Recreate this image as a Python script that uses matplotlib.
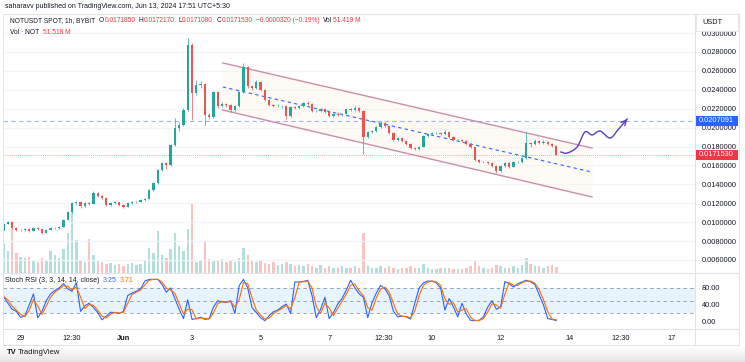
import numpy as np
import pandas as pd
import matplotlib
matplotlib.use("Agg")
import matplotlib.pyplot as plt
import matplotlib.dates as mdates
from matplotlib.lines import Line2D
from matplotlib.patches import Rectangle

plt.rcParams['font.family'] = ['Liberation Sans', 'DejaVu Sans']

# ---------------- data ----------------
candle_start = "2024-05-28 12:00"   # 3h candles
open_first = 0.00910
closes = [
    0.00980, 0.01001, 0.00938, 0.00917, 0.00917, 0.00927, 0.00906, 0.00938, 0.00927, 0.00885,
    0.00917, 0.00938, 0.00938, 0.00949, 0.01023, 0.01107, 0.01202, 0.01213, 0.01171, 0.01202,
    0.01192, 0.01308, 0.01276, 0.01255, 0.01181, 0.01202, 0.01213, 0.01181, 0.01160, 0.01202,
    0.01213, 0.01213, 0.01234, 0.01245, 0.01340, 0.01414, 0.01552, 0.01626, 0.01604, 0.01816,
    0.01996, 0.02028, 0.02186, 0.02874, 0.02366, 0.02451, 0.02461, 0.02133, 0.02112, 0.02377,
    0.02229, 0.02250, 0.02239, 0.02186, 0.02229, 0.02377, 0.02641, 0.02440, 0.02419, 0.02483,
    0.02398, 0.02292, 0.02239, 0.02229, 0.02229, 0.02229, 0.02123, 0.02218, 0.02208, 0.02229,
    0.02260, 0.02250, 0.02176, 0.02176, 0.02197, 0.02165, 0.02123, 0.02144, 0.02133, 0.02144,
    0.02197, 0.02186, 0.02208, 0.02176, 0.01901, 0.01954, 0.01964, 0.02006, 0.02049, 0.02017,
    0.01943, 0.01869, 0.01890, 0.01858, 0.01827, 0.01784, 0.01774, 0.01795, 0.01911, 0.01932,
    0.01943, 0.01943, 0.01932, 0.01954, 0.01901, 0.01869, 0.01869, 0.01858, 0.01827, 0.01795,
    0.01657, 0.01636, 0.01636, 0.01626, 0.01594, 0.01541, 0.01594, 0.01626, 0.01583, 0.01636,
    0.01636, 0.01679, 0.01837, 0.01827, 0.01858, 0.01837, 0.01848, 0.01827, 0.01806, 0.01715,
]
highs = [
    0.01000, 0.01012, 0.01008, 0.00945, 0.00930, 0.00936, 0.00934, 0.00948, 0.00952, 0.00932,
    0.00925, 0.00945, 0.00950, 0.00958, 0.01035, 0.01120, 0.01215, 0.01228, 0.01220, 0.01212,
    0.01210, 0.01325, 0.01315, 0.01285, 0.01262, 0.01210, 0.01222, 0.01218, 0.01188, 0.01208,
    0.01220, 0.01225, 0.01242, 0.01258, 0.01352, 0.01425, 0.01565, 0.01640, 0.01635, 0.01830,
    0.02100, 0.02060, 0.02210, 0.02950, 0.02900, 0.02500, 0.02490, 0.02470, 0.02150, 0.02390,
    0.02385, 0.02270, 0.02265, 0.02248, 0.02240, 0.02390, 0.02684, 0.02650, 0.02455, 0.02500,
    0.02490, 0.02405, 0.02300, 0.02255, 0.02245, 0.02240, 0.02235, 0.02228, 0.02232, 0.02240,
    0.02275, 0.02280, 0.02256, 0.02190, 0.02210, 0.02205, 0.02172, 0.02155, 0.02160, 0.02152,
    0.02210, 0.02205, 0.02230, 0.02220, 0.02190, 0.01965, 0.01975, 0.02015, 0.02065, 0.02058,
    0.02025, 0.01950, 0.01900, 0.01898, 0.01865, 0.01835, 0.01795, 0.01805, 0.01922, 0.01945,
    0.01955, 0.01958, 0.01950, 0.01972, 0.01962, 0.01910, 0.01882, 0.01880, 0.01866, 0.01835,
    0.01800, 0.01668, 0.01650, 0.01645, 0.01632, 0.01600, 0.01605, 0.01640, 0.01632, 0.01648,
    0.01652, 0.01690, 0.01950, 0.01850, 0.01880, 0.01868, 0.01870, 0.01858, 0.01835, 0.01812,
]
lows = [
    0.00905, 0.00975, 0.00930, 0.00905, 0.00908, 0.00910, 0.00898, 0.00902, 0.00920, 0.00878,
    0.00880, 0.00912, 0.00928, 0.00930, 0.00945, 0.01018, 0.01100, 0.01190, 0.01150, 0.01165,
    0.01185, 0.01188, 0.01268, 0.01245, 0.01170, 0.01175, 0.01196, 0.01172, 0.01150, 0.01155,
    0.01196, 0.01205, 0.01208, 0.01228, 0.01240, 0.01332, 0.01405, 0.01545, 0.01560, 0.01598,
    0.01810, 0.01960, 0.02020, 0.02180, 0.02080, 0.02340, 0.02420, 0.02030, 0.02090, 0.02100,
    0.02210, 0.02215, 0.02220, 0.02170, 0.02180, 0.02222, 0.02370, 0.02420, 0.02400, 0.02410,
    0.02385, 0.02280, 0.02225, 0.02215, 0.02218, 0.02210, 0.02095, 0.02115, 0.02195, 0.02200,
    0.02222, 0.02240, 0.02165, 0.02160, 0.02170, 0.02155, 0.02110, 0.02115, 0.02125, 0.02125,
    0.02140, 0.02175, 0.02180, 0.02168, 0.01720, 0.01890, 0.01940, 0.01955, 0.02000, 0.02005,
    0.01935, 0.01858, 0.01860, 0.01848, 0.01815, 0.01770, 0.01760, 0.01765, 0.01790, 0.01900,
    0.01925, 0.01930, 0.01922, 0.01925, 0.01890, 0.01858, 0.01855, 0.01848, 0.01815, 0.01785,
    0.01645, 0.01625, 0.01622, 0.01615, 0.01580, 0.01525, 0.01535, 0.01588, 0.01572, 0.01578,
    0.01625, 0.01630, 0.01672, 0.01790, 0.01820, 0.01825, 0.01830, 0.01815, 0.01795, 0.01705,
]
volumes_m = [
    260, 200, 400, 180, 150, 140, 150, 120, 100, 140,
    120, 200, 160, 140, 220, 360, 600, 300, 120, 100,
    310, 160, 120, 100, 80, 90, 70, 80, 60, 80,
    90, 70, 80, 120, 230, 180, 380, 160, 140, 220,
    360, 250, 200, 400, 640, 100, 120, 280, 130, 120,
    110, 130, 100, 120, 100, 140, 230, 160, 120, 100,
    120, 90, 80, 100, 70, 80, 100, 80, 60, 70,
    60, 80, 60, 50, 70, 50, 60, 50, 50, 60,
    50, 50, 60, 50, 360, 60, 50, 50, 60, 50,
    60, 50, 40, 50, 50, 60, 50, 50, 80, 50,
    40, 40, 50, 50, 50, 40, 40, 40, 50, 60,
    120, 60, 50, 40, 50, 70, 60, 50, 50, 60,
    50, 70, 140, 80, 60, 60, 50, 60, 70, 52,
]
stoch_k = [
    60, 45, 30, 25, 11, 14, 40, 66, 10, 25,
    50, 66, 74, 80, 90, 78, 72, 92, 25, 38,
    44, 34, 22, 5, 14, 23, 22, 20, 25, 62,
    68, 72, 78, 96, 100, 100, 100, 88, 70, 80,
    55, 30, 8, 52, 6, 8, 11, 6, 8, 35,
    50, 47, 46, 50, 20, 85, 100, 80, 34, 22,
    10, 3, 15, 24, 28, 36, 42, 20, 94, 94,
    95, 98, 62, 10, 30, 58, 8, 22, 42, 55,
    75, 98, 80, 66, 58, 10, 45, 68, 86, 78,
    62, 25, 12, 14, 12, 7, 45, 80, 92, 96,
    96, 92, 80, 28, 55, 35, 12, 44, 18, 4,
    3, 4, 12, 35, 50, 30, 35, 95, 90, 82,
    90, 94, 98, 94, 88, 64, 40, 8, 6, 3.25,
]

# drawings
channel_dates = ["2024-06-03 21:30", "2024-06-14 16:00"]
channel_upper = [0.02684, 0.01784]
channel_lower = [0.02186, 0.01266]
channel_mid = [0.02430, 0.01530]
level_blue = 0.0207091
level_last = 0.0171530
arrow_days = [15.76, 15.94, 16.23, 16.46, 16.67, 16.90, 17.19, 17.42, 17.69]
arrow_prices = [0.01742, 0.01731, 0.01795, 0.01954, 0.01922, 0.01964, 0.01890, 0.01975, 0.02091]

price_ticks = [0.006, 0.008, 0.010, 0.012, 0.014, 0.016, 0.018, 0.020, 0.022, 0.024, 0.026, 0.028, 0.030]
time_tick_days = [0, 1.5, 3, 5, 7, 9, 10.6, 12, 14, 16, 17.5, 19]
time_tick_labels = ["29", "12:30", "Jun", "3", "5", "7", "12:30", "10", "12", "14", "12:30", "17"]

# ---------------- figure ----------------
W, H = 745, 362
fig = plt.figure(figsize=(W / 100, H / 100), dpi=100, facecolor="white")


def box(x0, y0, x1, y1):
    return [x0 / W, 1 - y1 / H, (x1 - x0) / W, (y1 - y0) / H]


def fx(x):
    return x / W


def fy(y):
    return 1 - y / H


t0 = pd.Timestamp("2024-05-29")
times = pd.date_range(candle_start, periods=len(closes), freq="3h")
tnum = mdates.date2num(times.to_pydatetime())
opens = [open_first] + closes[:-1]
xl = mdates.date2num(t0 - pd.Timedelta(days=0.513))
xr = mdates.date2num(t0 + pd.Timedelta(days=19.67))

GREEN = "#26a69a"
RED = "#ef5350"

ax = fig.add_axes(box(3, 14, 695, 273))
ax_v = ax.twinx()
ax.set_zorder(ax_v.get_zorder() + 1)
ax.patch.set_visible(False)
ax_v.patch.set_visible(False)

# volume
vcols = [GREEN if c >= o else RED for o, c in zip(opens, closes)]
ax_v.bar(tnum, volumes_m, width=0.07, color=vcols, alpha=0.35, linewidth=0)
ax_v.set_ylim(0, 2360)
ax_v.set_yticks([])
for s in ax_v.spines.values():
    s.set_visible(False)

# grid
for p in price_ticks:
    ax.axhline(p, color="#f0f3fa", lw=0.8, zorder=0)

# channel
cx = mdates.date2num(pd.to_datetime(channel_dates).to_pydatetime())
ax.fill_between(cx, channel_lower, channel_upper, color="#fcf4e6", alpha=0.4, lw=0, zorder=1)
ax.plot(cx, channel_upper, color="#c98ea9", lw=1.0, zorder=2)
ax.plot(cx, channel_lower, color="#c98ea9", lw=1.0, zorder=2)
ax.plot(cx, channel_mid, color="#2962ff", lw=0.8, dashes=(3, 3), zorder=2)

# horizontal levels
ax.axhline(level_blue, color="#9fb3f3", lw=0.8, dashes=(4, 3), zorder=1)
ax.axhline(level_last, color="#ef5350", lw=0.6, dashes=(1, 1.5), alpha=0.7, zorder=1)

# candles
for t, o, h, l, c in zip(tnum, opens, highs, lows, closes):
    col = GREEN if c >= o else RED
    ax.vlines(t, l, h, color=col, lw=0.5, zorder=3)
    bot = min(o, c)
    ht = max(abs(c - o), 0.00004)
    ax.bar(t, ht, bottom=bot, width=0.065, color=col, lw=0, zorder=4)

# arrow (Catmull-Rom smoothing through hand points)
ad = mdates.date2num((t0 + pd.to_timedelta(arrow_days, unit="D")).to_pydatetime())
pts = np.column_stack([ad, arrow_prices])
P = np.vstack([pts[0], pts, pts[-1]])
curve = []
for i in range(1, len(P) - 2):
    p0, p1, p2, p3 = P[i - 1], P[i], P[i + 1], P[i + 2]
    for t in np.linspace(0, 1, 12, endpoint=False):
        curve.append(0.5 * ((2 * p1) + (-p0 + p2) * t + (2 * p0 - 5 * p1 + 4 * p2 - p3) * t ** 2
                            + (-p0 + 3 * p1 - 3 * p2 + p3) * t ** 3))
curve.append(P[-2])
curve = np.array(curve)
ax.plot(curve[:, 0], curve[:, 1], color="#5b3cc4", lw=1.0, zorder=5)
ax.annotate("", xy=curve[-1], xytext=curve[-4],
            arrowprops=dict(arrowstyle="->", color="#5b3cc4", lw=1.0, mutation_scale=9), zorder=5)

ax.set_xlim(xl, xr)
ax.set_ylim(0.004618, 0.03202)
ax.set_yticks(price_ticks)
ax.set_yticklabels([f"{p:.7f}" for p in price_ticks])
ax.yaxis.tick_right()
ax.tick_params(axis="y", length=0, pad=5, labelsize=5.3, labelcolor="#131722")
ax.tick_params(axis="x", length=0, labelbottom=False)
for s in ax.spines.values():
    s.set_visible(False)

# ---------------- stoch RSI ----------------
ax_s = fig.add_axes(box(3, 273, 695, 329))
stoch_d = pd.Series(stoch_k).rolling(2, min_periods=1).mean()
ax_s.axhspan(20, 80, color="#2196f3", alpha=0.1, lw=0)
for lv in (80, 50, 20):
    ax_s.axhline(lv, color="#787b86", lw=0.6, dashes=(4, 4), alpha=0.8)
ax_s.plot(tnum, stoch_k, color="#2962ff", lw=0.8)
ax_s.plot(tnum, stoch_d, color="#ff6d00", lw=0.8)
ax_s.set_xlim(xl, xr)
ax_s.set_ylim(-16.5, 115)
ax_s.set_yticks([0, 40, 80])
ax_s.set_yticklabels(["0.00", "40.00", "80.00"])
ax_s.yaxis.tick_right()
ax_s.tick_params(axis="y", length=0, pad=5, labelsize=5.3, labelcolor="#131722")
tick_nums = mdates.date2num((t0 + pd.to_timedelta(time_tick_days, unit="D")).to_pydatetime())
ax_s.set_xticks(tick_nums)
ax_s.set_xticklabels(time_tick_labels)
ax_s.tick_params(axis="x", length=0, pad=4, labelsize=5.3, labelcolor="#131722")
for lab in ax_s.get_xticklabels():
    if lab.get_text() == "Jun":
        lab.set_fontweight("bold")
for s in ax_s.spines.values():
    s.set_visible(False)

# ---------------- frame lines ----------------
LC = "#e0e3eb"
for (x0, y0, x1, y1) in [(3, 14, 739, 14), (3, 273, 739, 273), (3, 329, 739, 329), (3, 345, 739, 345),
                         (695, 14, 695, 345), (739, 14, 739, 345), (3, 14, 3, 345)]:
    fig.add_artist(Line2D([fx(x0), fx(x1)], [fy(y0), fy(y1)], color=LC, lw=0.7))

# bottom gradient strip
axg = fig.add_axes(box(0, 346, 745, 362))
grad = np.linspace(1.0, 0.9, 32).reshape(-1, 1)
axg.imshow(np.dstack([grad, grad, grad]) * np.ones((32, 10, 3)), aspect="auto", extent=[0, 1, 0, 1])
axg.axis("off")
axg.set_zorder(-1)

# ---------------- texts ----------------
DARK = "#131722"
TRED = "#f23645"
renderer = fig.canvas.get_renderer()


def text_run(x_px, y_px, parts, size):
    """Place a sequence of (text, colour, gap_px) pieces one after the other."""
    x = x_px
    for s, c, g in parts:
        x += g
        t = fig.text(fx(x), fy(y_px), s, fontsize=size, color=c, va="center")
        x += t.get_window_extent(renderer).width


fig.text(fx(5), fy(7), "saharavv published on TradingView.com, Jun 13, 2024 17:51 UTC+5:30",
         fontsize=5.0, color=DARK, va="center")
text_run(10, 21, [("NOTUSDT SPOT, 1h, BYBIT", DARK, 0), ("O", DARK, 3.5), ("0.0171850", TRED, 0.3),
                  ("H", DARK, 3.5), ("0.0172170", TRED, 0.3), ("L", DARK, 3.5), ("0.0171080", TRED, 0.3),
                  ("C", DARK, 3.5), ("0.0171530", TRED, 0.3),
                  ("\u22120.0000320 (\u22120.19%)", TRED, 3.5), ("Vol", DARK, 3.5), ("51.419 M", TRED, 0.3)], 4.8)
text_run(10, 32, [("Vol \u00b7 NOT", DARK, 0), ("51.518 M", TRED, 3.5)], 4.8)

text_run(5, 281, [("Stoch RSI (3, 3, 14, 14, close)", DARK, 0), ("3.25", "#2962ff", 3),
                  ("3.71", "#ff6d00", 3)], 5.0)

# USDT box
fig.add_artist(Rectangle((fx(696), fy(31)), fx(42), 17 / H, facecolor="white", edgecolor="#e0e3eb",
                         lw=0.6, zorder=2))
fig.text(fx(702), fy(22), "USDT", fontsize=5.3, color=DARK, va="center", zorder=3)

# price labels
for val, col in [(level_blue, "#2962ff"), (level_last, TRED)]:
    yy = ax.transData.transform((xl, val))[1] / fig.dpi / (H / 100)
    fig.add_artist(Rectangle((fx(696), yy - 5 / H), fx(42), 10 / H, facecolor=col, edgecolor="none", zorder=4))
    fig.text(fx(699), yy, f"{val:.7f}", fontsize=5.3, color="white", va="center", zorder=5)

# TradingView logo
fig.text(fx(7), fy(353), "TV", fontsize=5.5, color=DARK, va="center", fontweight="bold")
fig.text(fx(18), fy(353), "TradingView", fontsize=5.5, color=DARK, va="center")

fig.savefig("out.png", dpi=100, facecolor="white")
